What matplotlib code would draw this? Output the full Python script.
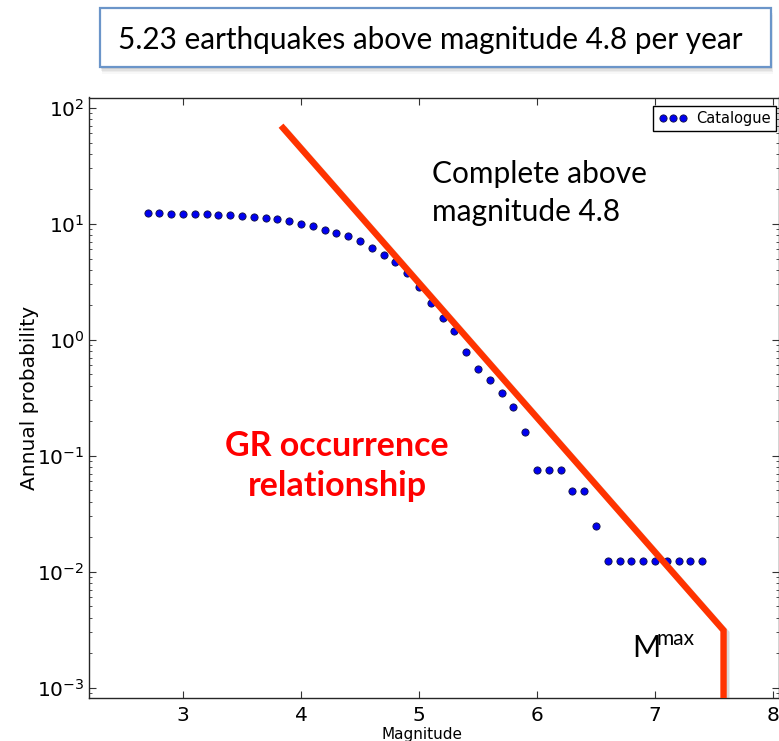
import math
import matplotlib
matplotlib.use("Agg")
import matplotlib.pyplot as plt
from matplotlib import patches
from matplotlib import patheffects as pe

plt.rcParams["axes.unicode_minus"] = False

# catalogue: annual rate of events at or above each magnitude
magnitudes = [2.7, 2.8, 2.9, 3.0, 3.1, 3.2, 3.3, 3.4, 3.5, 3.6, 3.7, 3.8, 3.9,
              4.0, 4.1, 4.2, 4.3, 4.4, 4.5, 4.6, 4.7, 4.8, 4.9,
              5.0, 5.1, 5.2, 5.3, 5.4, 5.5, 5.6, 5.7, 5.8, 5.9,
              6.0, 6.1, 6.2, 6.3, 6.4, 6.5, 6.6, 6.7, 6.8, 6.9,
              7.0, 7.1, 7.2, 7.3, 7.4]
rates = [12.27, 12.27, 12.2, 12.2, 12.1, 12.0, 11.9, 11.8, 11.6, 11.5, 11.25, 10.9, 10.45,
         9.98, 9.53, 8.75, 8.24, 7.77, 7.03, 6.19, 5.36, 4.66, 3.73,
         2.86, 2.06, 1.53, 1.19, 0.787, 0.558, 0.449, 0.349, 0.263, 0.161,
         0.0747, 0.0747, 0.0747, 0.0498, 0.0498, 0.0249, 0.0124, 0.0124, 0.0124, 0.0124,
         0.0124, 0.0124, 0.0124, 0.0124, 0.0124]

# Gutenberg-Richter fit
gr_rate = 5.23      # events per year above gr_mmin
gr_mmin = 4.8
gr_b = 1.16
gr_mstart = 3.83
gr_mmax = 7.58

W, H = 779, 741
fig = plt.figure(figsize=(W / 100, H / 100), dpi=100)

x0, x1 = 88.7, 779.0
y0, y1 = 97.5, 698.0
ax = fig.add_axes([x0 / W, 1 - y1 / H, (x1 - x0) / W, (y1 - y0) / H])

ax.semilogy(magnitudes, rates, "o", ls="none", color="#0000f0", mec="#101040",
            mew=0.6, ms=5.2, label="Catalogue", zorder=3)

ylo, yhi = 10 ** -3.09, 10 ** 2.087
gr_a = math.log10(gr_rate) + gr_b * gr_mmin
gr_x = [gr_mstart, gr_mmax, gr_mmax]
gr_y = [10 ** (gr_a - gr_b * gr_mstart), 10 ** (gr_a - gr_b * gr_mmax), ylo]
ax.plot(gr_x, gr_y, color="#ff3300", lw=4.6, solid_capstyle="butt",
        solid_joinstyle="miter", zorder=4,
        path_effects=[pe.SimpleLineShadow(offset=(2, -2), shadow_color="0.5", alpha=0.3),
                      pe.Normal()])

ax.set_xlim(2.2, 8.05)
ax.set_ylim(ylo, yhi)
ax.set_xticks([3, 4, 5, 6, 7, 8])
ax.tick_params(which="both", direction="in", top=True, right=True,
               labelsize=14.5, color="0.2")
ax.tick_params(which="major", length=5, width=0.8)
ax.tick_params(which="minor", length=2.5, width=0.6)
ax.tick_params(axis="x", which="major", pad=6)
ax.tick_params(axis="y", which="major", pad=3)
for s in ax.spines.values():
    s.set_linewidth(1.0)
    s.set_color("0.15")

ax.set_ylabel("Annual probability", fontsize=14.5)
ax.yaxis.set_label_coords((29 - x0) / (x1 - x0), 0.5)
ax.yaxis.label.set_va("center")
ax.set_xlabel("Magnitude", fontsize=11)
ax.xaxis.set_label_coords((422 - x0) / (x1 - x0), -(734 - y1) / (y1 - y0))
ax.xaxis.label.set_va("center")

ax.legend(loc="upper right", numpoints=3, fontsize=10.5, fancybox=False,
          edgecolor="black", framealpha=1, borderaxespad=0,
          bbox_to_anchor=(776 / W, 1 - 106 / H), bbox_transform=fig.transFigure,
          handlelength=2.0, handletextpad=0.6, borderpad=0.35)

cal = "Lato"
ax.text(432 / W, 1 - 193 / H, "Complete above\nmagnitude 4.8", transform=fig.transFigure,
        family=cal, fontsize=21.5, ha="left", va="center", linespacing=1.4)
ax.text(337 / W, 1 - 466 / H, "GR occurrence\nrelationship", transform=fig.transFigure,
        family=cal, fontsize=24.5, fontweight="bold", color="#ff0000",
        ha="center", va="center", linespacing=1.3)
ax.text(632 / W, 1 - 657 / H, "M", transform=fig.transFigure, family=cal,
        fontsize=22, ha="left", va="baseline")
ax.text(657 / W, 1 - 645 / H, "max", transform=fig.transFigure, family=cal,
        fontsize=15, ha="left", va="baseline")

# header box with soft shadow
bx, by, bw, bh = 100, 8, 671, 59
for i, a in enumerate([0.10, 0.08, 0.06, 0.04]):
    d = 2 + 1.5 * i
    fig.add_artist(patches.Rectangle(((bx + d * 0.3) / W, 1 - (by + bh + d) / H),
                                     bw / W, bh / H, transform=fig.transFigure,
                                     fc="0.3", ec="none", alpha=a, zorder=1))
fig.add_artist(patches.Rectangle((bx / W, 1 - (by + bh) / H), bw / W, bh / H,
                                 transform=fig.transFigure, fc="white",
                                 ec="#6b95c9", lw=1.6, zorder=2))
fig.text(430 / W, 1 - 40 / H, "5.23 earthquakes above magnitude 4.8 per year",
         family=cal, fontsize=21.4, ha="center", va="center", zorder=3)

fig.savefig("out.png", dpi=100)
